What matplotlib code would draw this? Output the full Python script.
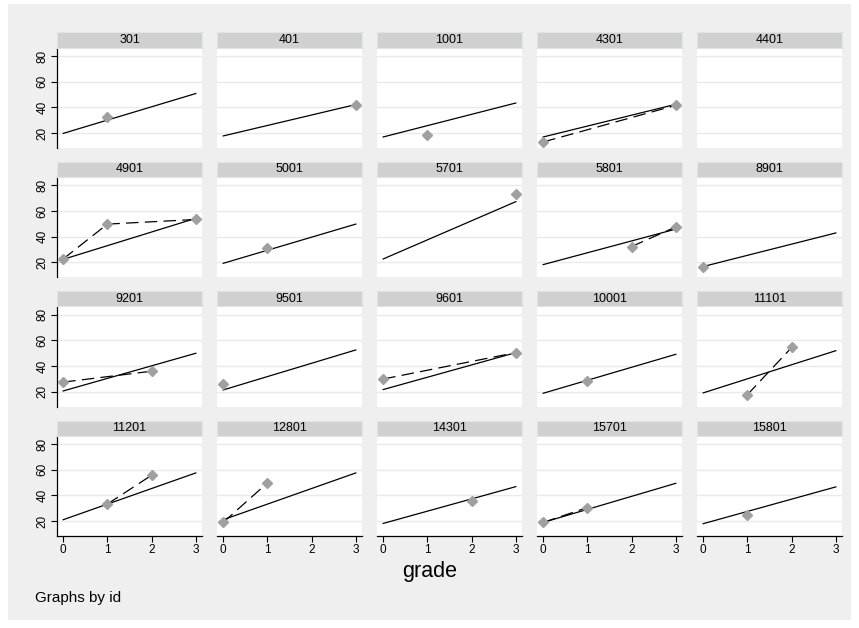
import numpy as np
import matplotlib
matplotlib.use('Agg')
import matplotlib.pyplot as plt

plt.rcParams['font.family'] = ['Liberation Sans', 'DejaVu Sans']

# panel ids, observed scores by grade, fitted line at grade 0 and grade 3
ids = ['301', '401', '1001', '4301', '4401',
       '4901', '5001', '5701', '5801', '8901',
       '9201', '9501', '9601', '10001', '11101',
       '11201', '12801', '14301', '15701', '15801']
obs_grade = [[1], [3], [1], [0, 3], [],
             [0, 1, 3], [1], [3], [2, 3], [0],
             [0, 2], [0], [0, 3], [1], [1, 2],
             [1, 2], [0, 1], [2], [0, 1], [1]]
obs_score = [[32.5], [41.6], [18.2], [13.0, 41.6], [],
             [22.6, 49.8, 53.4], [30.9], [73.5], [32.3, 47.6], [16.7],
             [27.4, 35.9], [26.1], [29.8, 50.4], [28.5], [17.6, 54.4],
             [33.2, 55.7], [18.9, 49.7], [35.7], [18.9, 30.5], [24.6]]
fit_at_0 = [19.7, 17.7, 16.9, 16.9, None,
            22.3, 19.2, 22.6, 18.2, 16.7,
            20.5, 21.3, 21.6, 18.7, 19.0,
            21.0, 21.0, 18.1, 18.9, 17.9]
fit_at_3 = [50.8, 42.2, 43.4, 42.4, None,
            54.3, 49.8, 67.3, 45.9, 42.9,
            49.9, 52.5, 50.4, 49.1, 51.9,
            57.5, 57.5, 46.8, 49.4, 46.6]
y_ticks = [20, 40, 60, 80]
x_ticks = [0, 1, 2, 3]

W, H = 859, 628
fig = plt.figure(figsize=(W / 100, H / 100), dpi=100)
fig.patch.set_facecolor('white')
bg = plt.Rectangle((8 / W, 1 - 620 / H), 843 / W, 616 / H, transform=fig.transFigure,
                   facecolor='#efefef', edgecolor='none', zorder=-10)
fig.patches.append(bg)

col_left = [57, 217, 377, 537, 697]
pw, ph = 145, 100
row_top = [48, 177.3, 306.6, 436]

for i, pid in enumerate(ids):
    r, c = divmod(i, 5)
    x0, y0 = col_left[c], row_top[r]
    ax = fig.add_axes([x0 / W, 1 - (y0 + ph) / H, pw / W, ph / H])
    ax.set_facecolor('white')
    ax.set_xlim(-0.14, 3.14)
    ax.set_ylim(8.3, 86.3)
    for yv in y_ticks:
        ax.axhline(yv, color='#eaeaea', lw=1.0, zorder=0)
    if fit_at_0[i] is not None:
        ax.plot([0, 3], [fit_at_0[i], fit_at_3[i]], color='black', lw=0.9, zorder=2)
    if obs_grade[i]:
        ax.plot(obs_grade[i], obs_score[i], color='black', lw=0.9, dashes=(10, 5), zorder=3)
        ax.plot(obs_grade[i], obs_score[i], ls='none', marker='D', ms=4.6,
                color='#a0a0a0', mec='#a0a0a0', zorder=4)
    for s in ax.spines.values():
        s.set_visible(False)
    ax.set_xticks(x_ticks)
    ax.set_yticks(y_ticks)
    ax.tick_params(length=4, width=0.8, labelsize=8.5, pad=2, color='black')
    if c == 0:
        ax.spines['left'].set_visible(True)
        ax.spines['left'].set_linewidth(0.9)
        ax.set_yticklabels([str(v) for v in y_ticks], rotation=90, va='center')
    else:
        ax.tick_params(axis='y', left=False, labelleft=False)
    if r == 3:
        ax.spines['bottom'].set_visible(True)
        ax.spines['bottom'].set_linewidth(0.9)
    else:
        ax.tick_params(axis='x', bottom=False, labelbottom=False)

    # strip header
    sax = fig.add_axes([x0 / W, 1 - (y0 - 0.5) / H, pw / W, 15 / H])
    sax.set_facecolor('#d0d0d0')
    for s in sax.spines.values():
        s.set_color('#dce6ea')
        s.set_linewidth(0.8)
    sax.set_xticks([])
    sax.set_yticks([])
    sax.text(0.5, 0.5, pid, ha='center', va='center', fontsize=9, transform=sax.transAxes)

fig.text(430 / W, 1 - 572 / H, 'grade', ha='center', va='center', fontsize=15.5)
fig.text(35 / W, 1 - 598 / H, 'Graphs by id', ha='left', va='center', fontsize=11)

fig.savefig('out.png', dpi=100)
